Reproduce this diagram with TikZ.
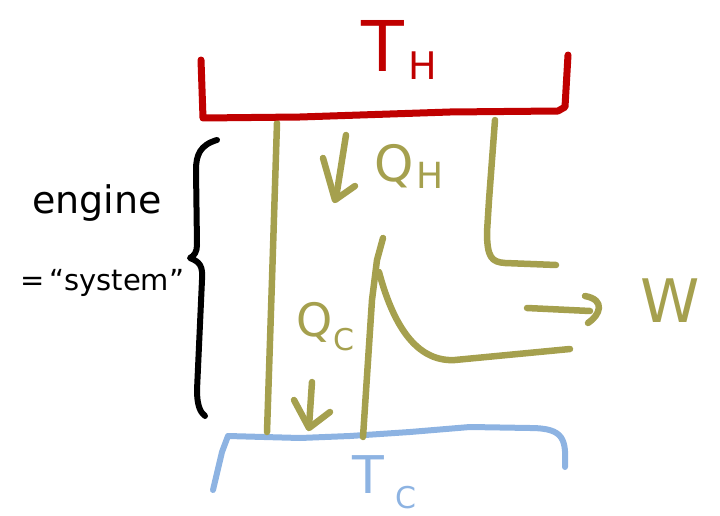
\documentclass[tikz,border=0pt]{standalone}
\usepackage{fontspec}
\setmainfont{DejaVu Sans}
\definecolor{hot}{HTML}{C00000}
\definecolor{olivel}{HTML}{A5A04E}
\definecolor{cold}{HTML}{8DB3E2}
\begin{document}
\begin{tikzpicture}[x=1pt,y=-1pt,line cap=round,line join=round,
  hotline/.style={draw=hot,line width=7pt},
  coldline/.style={draw=cold,line width=6pt},
  oliveline/.style={draw=olivel,line width=6.5pt},
  braceline/.style={draw=black,line width=6pt},
  lab/.style={inner sep=0pt,anchor=base west},
  big/.style={font=\fontsize{#1}{#1}\selectfont}]
\useasboundingbox (0,0) rectangle (720,516);
% cold reservoir
\draw[coldline] (213,490) -- (222,452) -- (228,436) -- (300,438) -- (350,436) -- (410,432) -- (470,427) -- (530,428)
  .. controls (565,428) and (566,440) .. (565,467);
% engine paths
\draw[oliveline] (277,123) -- (272,280) -- (267,432);
\draw[oliveline] (495,120) -- (489,200) -- (487,232) .. controls (487,258) and (492,262) .. (505,263) -- (556,265);
\draw[oliveline] (363,437) -- (372,300) -- (377,260) -- (383,238);
\draw[oliveline] (379,272) .. controls (395,332) and (420,362) .. (455,360) -- (570,349);
% work arrow
\draw[oliveline] (527,308) -- (590,311);
\draw[oliveline] (585,296) .. controls (606,300) and (600,315) .. (588,323);
% heat arrows
\draw[oliveline] (346,135) -- (336,198);
\draw[oliveline] (323,158) -- (335,200) -- (355,186);
\draw[oliveline] (312,382) -- (309,427);
\draw[oliveline] (294,400) -- (309,428) -- (330,412);
% hot reservoir
\draw[hotline] (201,60) -- (203,118) -- (300,117) -- (450,112) -- (558,111) -- (565,107) -- (568,55);
% brace
\draw[braceline] (217,140) .. controls (200,145) and (196,155) .. (196,170) -- (197,245)
  .. controls (197,252) and (194,256) .. (190,258)
  .. controls (200,262) and (203,266) .. (202,280) -- (197,390)
  .. controls (197,405) and (200,412) .. (205,416);
% labels
\node[lab,text=hot,big=70,anchor=base] (TH) at (383,72) {T};
\node[lab,text=hot,big=38] (THs) at (408,80) {H};
\node[lab,text=olivel,big=50] (QH) at (374,181) {Q};
\node[lab,text=olivel,big=36] (QHs) at (416,188) {H};
\node[lab,text=olivel,big=46] (QC) at (296,336) {Q};
\node[lab,text=olivel,big=30] (QCs) at (333,350) {C};
\node[lab,text=olivel,big=60] (W) at (640,322) {W};
\node[lab,text=cold,big=52,anchor=base] (TC) at (368,493) {T};
\node[lab,text=cold,big=30] (TCs) at (395,508) {C};
\node[lab,big=38] (eng) at (32,213) {engine};
\node[lab,big=29] (sys) at (20,290) {=\,“system”};
\end{tikzpicture}
\end{document}
